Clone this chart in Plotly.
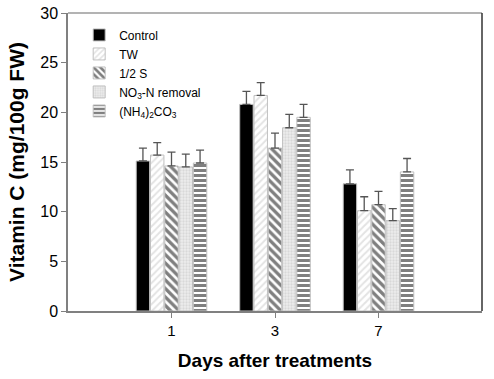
import plotly.graph_objects as go

days = ["1", "3", "7"]
series_names = ["Control", "TW", "1/2 S", "NO<sub>3</sub>-N removal", "(NH<sub>4</sub>)<sub>2</sub>CO<sub>3</sub>"]
control = [15.1, 20.8, 12.8]
tw = [15.7, 21.7, 10.1]
half_s = [14.6, 16.4, 10.7]
no3 = [14.5, 18.45, 9.1]
nh4 = [14.9, 19.5, 14.0]
err_control = [1.3, 1.3, 1.4]
err_tw = [1.25, 1.3, 1.4]
err_half_s = [1.4, 1.5, 1.35]
err_no3 = [1.3, 1.35, 1.2]
err_nh4 = [1.3, 1.3, 1.35]

values = [control, tw, half_s, no3, nh4]
errors = [err_control, err_tw, err_half_s, err_no3, err_nh4]
styles = [
    dict(color="black", pattern=dict(shape="")),
    dict(color="white", pattern=dict(shape="/", fgcolor="#c8c8c8", bgcolor="white", size=5, solidity=0.4)),
    dict(color="white", pattern=dict(shape="\\", fgcolor="black", bgcolor="white", size=6, solidity=0.55)),
    dict(color="white", pattern=dict(shape=".", fgcolor="#c4c4c4", bgcolor="#ededed", size=3, solidity=0.45)),
    dict(color="white", pattern=dict(shape="-", fgcolor="black", bgcolor="white", size=5, solidity=0.6)),
]

fig = go.Figure()
for name, v, e, st in zip(series_names, values, errors, styles):
    fig.add_trace(go.Bar(
        x=days, y=v, name=name,
        marker=dict(color=st["color"], pattern=st["pattern"],
                    line=dict(color="#c0c0c0", width=1)),
        error_y=dict(type="data", array=e, symmetric=False, arrayminus=[0, 0, 0],
                     color="#555555", thickness=1.3, width=4),
    ))

fig.update_layout(
    width=494, height=379,
    margin=dict(l=68, r=12, t=13, b=68),
    paper_bgcolor="white", plot_bgcolor="white",
    barmode="group", bargap=0.31, bargroupgap=0.06,
    font=dict(family="Liberation Sans, Arial, sans-serif", color="black"),
    legend=dict(x=0.027, y=0.975, xanchor="left", yanchor="top",
                bgcolor="rgba(0,0,0,0)", font=dict(size=12),
                itemwidth=30, tracegroupgap=0, traceorder="normal"),
    showlegend=True,
    xaxis=dict(type="category", range=[-1, 3], automargin=False,
               showline=True, linecolor="#808080", linewidth=1.5, mirror=False,
               ticks="outside", ticklen=5, tickcolor="#808080",
               tickfont=dict(size=15), ticklabeloverflow="allow",
               title=dict(text="<b>Days after treatments</b>", font=dict(size=19), standoff=16)),
    yaxis=dict(range=[0, 30], tickvals=[0, 5, 10, 15, 20, 25, 30], automargin=False,
               showline=True, linecolor="#808080", linewidth=1.5,
               ticks="outside", ticklen=5, tickcolor="#808080",
               tickfont=dict(size=16), showgrid=False, zeroline=False,
               ticklabeloverflow="allow",
               title=dict(text="<b>Vitamin C (mg/100g FW)</b>", font=dict(size=21), standoff=10)),
)
# top and right frame lines
fig.add_shape(type="line", xref="paper", yref="paper", x0=0, x1=1, y0=1, y1=1,
              line=dict(color="#9a9a9a", width=1.5))
fig.add_shape(type="line", xref="paper", yref="paper", x0=1, x1=1, y0=0, y1=1,
              line=dict(color="#333333", width=1.5))

fig.write_html("out.html", config={"displayModeBar": False},
               post_script="document.body.style.margin='0';")
